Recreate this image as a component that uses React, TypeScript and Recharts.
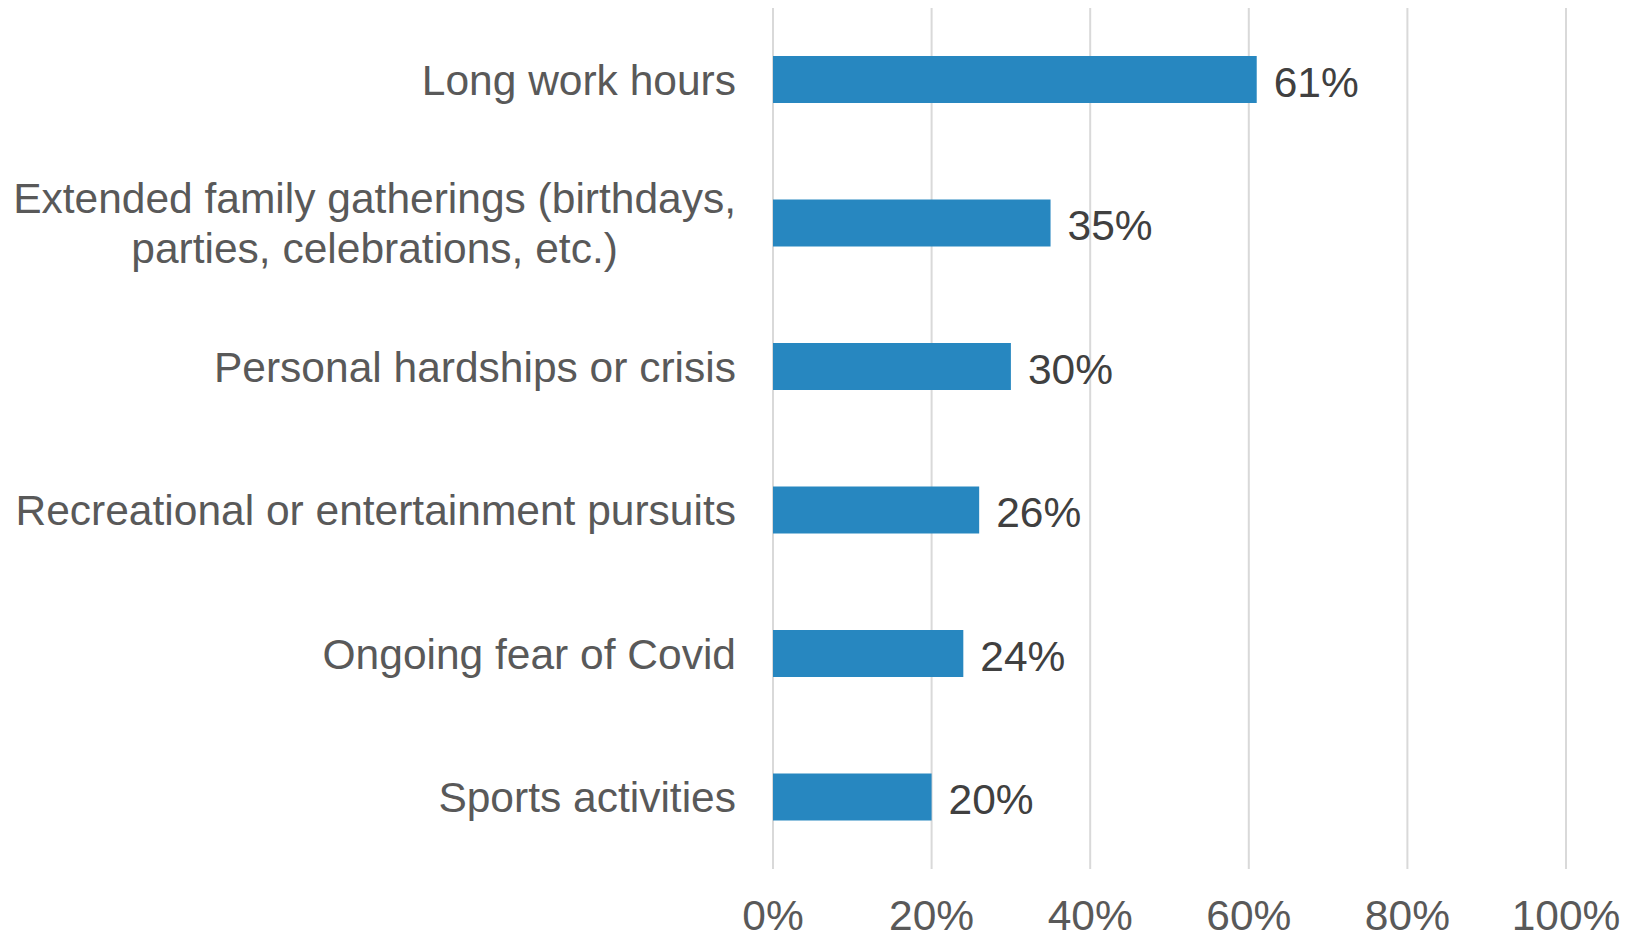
import React from "react";
import { BarChart, Bar, XAxis, YAxis, CartesianGrid, LabelList } from "recharts";

// categories, top to bottom ("\n" marks a wrapped label)
const categories = [
  "Long work hours",
  "Extended family gatherings (birthdays,\nparties, celebrations, etc.)",
  "Personal hardships or crisis",
  "Recreational or entertainment pursuits",
  "Ongoing fear of Covid",
  "Sports activities",
];
const shares = [61, 35, 30, 26, 24, 20];
const xTicks = [0, 20, 40, 60, 80, 100];

const FONT = "'Liberation Sans', Arial, sans-serif";
const FONT_SIZE = 42.5;
const LABEL_COLOR = "#595959";
const BAR_COLOR = "#2787c0";

const data = categories.map((name, i) => ({ name, value: shares[i] }));

let ctx: CanvasRenderingContext2D | null = null;
const measure = (s: string) => {
  if (!ctx) ctx = document.createElement("canvas").getContext("2d");
  if (!ctx) return s.length * FONT_SIZE * 0.5;
  ctx.font = `${FONT_SIZE}px 'Liberation Sans', Arial`;
  return ctx.measureText(s).width;
};

const CategoryTick = (props: any) => {
  const { x, y, payload } = props;
  const lines: string[] = String(payload.value).split("\n");
  const right = x - 29;
  if (lines.length === 1) {
    return (
      <text x={right} y={y + 15} textAnchor="end" fill={LABEL_COLOR} fontSize={FONT_SIZE} fontFamily={FONT}>
        {lines[0]}
      </text>
    );
  }
  const w = Math.max(...lines.map(measure));
  const cx = right - w / 2;
  const lh = 50;
  const top = y + 15 - ((lines.length - 1) * lh) / 2;
  return (
    <text textAnchor="middle" fill={LABEL_COLOR} fontSize={FONT_SIZE} fontFamily={FONT}>
      {lines.map((l, i) => (
        <tspan key={i} x={cx} y={top + i * lh}>
          {l}
        </tspan>
      ))}
    </text>
  );
};

const PercentTick = (props: any) => {
  const { x, payload } = props;
  return (
    <text x={x} y={930} textAnchor="middle" fill={LABEL_COLOR} fontSize={FONT_SIZE} fontFamily={FONT}>
      {`${payload.value}%`}
    </text>
  );
};

const ValueLabel = (props: any) => {
  const { x, y, width, height, value } = props;
  return (
    <text x={x + width + 17} y={y + height / 2 + 17} fill="#404040" fontSize={FONT_SIZE} fontFamily={FONT}>
      {`${value}%`}
    </text>
  );
};

const App: React.FC = () => {
  return (
    <div style={{ position: "absolute", left: 0, top: 0, background: "#fff" }}>
      <BarChart
        width={1629}
        height={940}
        data={data}
        layout="vertical"
        margin={{ top: 8, right: 63, bottom: 0, left: 0 }}
        barCategoryGap="33.5%"
      >
        <CartesianGrid horizontal={false} stroke="#d9d9d9" strokeWidth={2} />
        <XAxis
          type="number"
          domain={[0, 100]}
          ticks={xTicks}
          axisLine={false}
          tickLine={false}
          height={71}
          tick={<PercentTick />}
          interval={0}
        />
        <YAxis
          type="category"
          dataKey="name"
          width={773}
          axisLine={false}
          tickLine={false}
          tick={<CategoryTick />}
          interval={0}
        />
        <Bar dataKey="value" fill={BAR_COLOR} isAnimationActive={false}>
          <LabelList dataKey="value" content={<ValueLabel />} />
        </Bar>
      </BarChart>
    </div>
  );
};

export default App;
